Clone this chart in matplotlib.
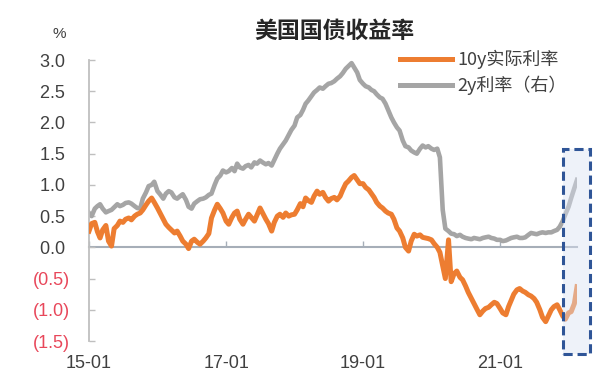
import matplotlib
matplotlib.use("Agg")
import matplotlib.pyplot as plt
import matplotlib.dates as mdates
from matplotlib.patches import Rectangle
import pandas as pd

# ---------------- data (semi-monthly) ----------------
start_date = "2015-01-01"
real10y = [
    # 2015
    0.26, 0.38, 0.40, 0.25, 0.15, 0.28, 0.35, 0.10, 0.02, 0.30, 0.35, 0.42,
    0.40, 0.45, 0.47, 0.44, 0.50, 0.53, 0.55, 0.60, 0.68, 0.74, 0.79, 0.72,
    # 2016
    0.63, 0.55, 0.45, 0.37, 0.32, 0.28, 0.23, 0.26, 0.18, 0.10, 0.05, -0.02,
    0.10, 0.13, 0.08, 0.05, 0.10, 0.15, 0.22, 0.47, 0.60, 0.69, 0.62, 0.55,
    # 2017
    0.42, 0.37, 0.48, 0.55, 0.58, 0.45, 0.37, 0.45, 0.53, 0.48, 0.42, 0.52,
    0.63, 0.55, 0.45, 0.38, 0.26, 0.40, 0.50, 0.53, 0.48, 0.55, 0.50, 0.52,
    # 2018
    0.53, 0.60, 0.70, 0.65, 0.79, 0.75, 0.72, 0.82, 0.90, 0.85, 0.88, 0.80,
    0.74, 0.78, 0.80, 0.76, 0.82, 0.92, 1.02, 1.06, 1.12, 1.15, 1.08, 1.02,
    # 2019
    1.02, 0.96, 0.92, 0.86, 0.80, 0.72, 0.66, 0.63, 0.58, 0.55, 0.53, 0.45,
    0.31, 0.26, 0.15, 0.00, -0.06, 0.10, 0.21, 0.18, 0.20, 0.16, 0.15, 0.14,
    # 2020
    0.12, 0.06, 0.00, -0.08, -0.30, -0.50, 0.12, -0.55, -0.42, -0.38, -0.48, -0.52,
    -0.62, -0.72, -0.82, -0.90, -1.00, -1.08, -1.02, -0.98, -0.96, -0.92, -0.88, -0.90,
    # 2021
    -0.98, -1.05, -1.08, -0.95, -0.85, -0.75, -0.68, -0.66, -0.70, -0.72, -0.76, -0.78,
    -0.82, -0.88, -1.00, -1.12, -1.19, -1.10, -1.00, -0.95, -0.92, -1.00, -1.10, -1.15,
    # 2022
    -1.05, -1.03, -0.90, -0.63,
]
rate2y = [
    # 2015
    0.55, 0.50, 0.62, 0.66, 0.69, 0.62, 0.56, 0.58, 0.60, 0.64, 0.69, 0.66,
    0.68, 0.71, 0.72, 0.70, 0.66, 0.63, 0.62, 0.78, 0.88, 0.98, 1.00, 1.05,
    # 2016
    0.90, 0.85, 0.78, 0.86, 0.90, 0.88, 0.80, 0.78, 0.82, 0.85, 0.76, 0.65,
    0.62, 0.70, 0.74, 0.77, 0.78, 0.80, 0.84, 0.86, 1.00, 1.10, 1.15, 1.23,
    # 2017
    1.20, 1.22, 1.27, 1.22, 1.34, 1.28, 1.26, 1.30, 1.32, 1.28, 1.36, 1.34,
    1.39, 1.36, 1.33, 1.35, 1.31, 1.40, 1.50, 1.58, 1.65, 1.71, 1.80, 1.88,
    # 2018
    1.95, 2.08, 2.12, 2.20, 2.30, 2.35, 2.42, 2.48, 2.52, 2.56, 2.54, 2.58,
    2.62, 2.63, 2.66, 2.70, 2.74, 2.79, 2.86, 2.90, 2.95, 2.88, 2.80, 2.68,
    # 2019
    2.62, 2.58, 2.56, 2.52, 2.50, 2.45, 2.40, 2.38, 2.30, 2.20, 2.08, 2.00,
    1.92, 1.87, 1.71, 1.62, 1.60, 1.55, 1.52, 1.50, 1.58, 1.63, 1.60, 1.62,
    # 2020
    1.58, 1.56, 1.58, 1.44, 0.60, 0.30, 0.26, 0.22, 0.21, 0.18, 0.20, 0.17,
    0.15, 0.14, 0.13, 0.15, 0.14, 0.13, 0.15, 0.16, 0.17, 0.15, 0.14, 0.12,
    # 2021
    0.12, 0.10, 0.11, 0.13, 0.15, 0.16, 0.17, 0.15, 0.15, 0.16, 0.20, 0.23,
    0.22, 0.21, 0.23, 0.24, 0.23, 0.24, 0.24, 0.26, 0.28, 0.33, 0.42, 0.53,
    # 2022
    0.65, 0.79, 0.95, 1.08,
]
series_labels = ["10y实际利率", "2y利率（右）"]
title = "美国国债收益率"
unit_label = "%"
y_ticks = [3.0, 2.5, 2.0, 1.5, 1.0, 0.5, 0.0, -0.5, -1.0, -1.5]
x_ticks = ["2015-01-01", "2017-01-01", "2019-01-01", "2021-01-01"]
x_range = ["2015-01-01", "2022-02-15"]
y_range = [-1.5, 3.0]
box_x = ["2021-12-01", "2022-04-23"]
box_y = [-1.71, 1.58]

dates = pd.date_range(start_date, periods=len(real10y), freq="SMS")

# ---------------- style ----------------
orange = "#ED7D31"
gray = "#A5A5A5"
txt = "#404040"
red = "#E8475A"
latin = ["Liberation Sans", "Noto Sans CJK SC", "DejaVu Sans"]
cjk = ["Noto Sans CJK SC", "Liberation Sans", "DejaVu Sans"]
plt.rcParams["font.family"] = latin

W, H = 593, 373
fig = plt.figure(figsize=(W / 100, H / 100), dpi=100)
ax = fig.add_axes([89 / W, 1 - 341 / H, (577 - 89) / W, (341 - 60) / H])

ax.plot(dates, real10y, color=orange, lw=3.6, solid_joinstyle="round",
        label=series_labels[0], zorder=3)
ax.plot(dates, rate2y, color=gray, lw=3.3, solid_joinstyle="round",
        label=series_labels[1], zorder=2)

ax.set_xlim(pd.Timestamp(x_range[0]), pd.Timestamp(x_range[1]))
ax.set_ylim(*y_range)

# spines
for s in ["top", "right", "bottom"]:
    ax.spines[s].set_visible(False)
ax.spines["left"].set_color("#BFBFBF")
ax.spines["left"].set_linewidth(1.3)

# y ticks
ax.set_yticks(y_ticks)
ylabels = [f"{v:.1f} " if v >= 0 else f"({abs(v):.1f})" for v in y_ticks]
ax.set_yticklabels(ylabels)
for lab, v in zip(ax.get_yticklabels(), y_ticks):
    lab.set_color(txt if v >= 0 else red)
ax.tick_params(axis="y", direction="in", length=4, width=1, color="#BFBFBF",
               labelsize=13, pad=13.5)

# x ticks (labels at the bottom)
xt = [pd.Timestamp(d) for d in x_ticks]
ax.set_xticks(xt)
ax.xaxis.set_major_formatter(mdates.DateFormatter("%y-%m"))
ax.tick_params(axis="x", length=0, labelsize=13, pad=10, labelcolor=txt)

# zero axis line with inward ticks
frac0 = (0 - y_range[0]) / (y_range[1] - y_range[0])
sec = ax.secondary_xaxis(frac0)
sec.set_xticks(xt)
sec.tick_params(axis="x", direction="in", length=4, width=1, color="#A6AEB8",
                labelbottom=False, labeltop=False)
sec.set_xticklabels([])
sec.spines["bottom"].set_color("#A6AEB8")
sec.spines["bottom"].set_linewidth(1.5)

# highlight box
bx0 = mdates.date2num(pd.Timestamp(box_x[0]))
bx1 = mdates.date2num(pd.Timestamp(box_x[1]))
rect = Rectangle((bx0, box_y[0]), bx1 - bx0, box_y[1] - box_y[0],
                 facecolor="#DAE3F3", alpha=0.45, edgecolor="none",
                 clip_on=False, zorder=4)
ax.add_patch(rect)
rect2 = Rectangle((bx0, box_y[0]), bx1 - bx0, box_y[1] - box_y[0],
                  facecolor="none", edgecolor="#2F5597", lw=2.2,
                  linestyle=(0, (3, 1.6)), clip_on=False, zorder=5)
ax.add_patch(rect2)

# title, unit
fig.text(334 / W, 1 - 31 / H, title, ha="center", va="center", fontsize=16.5,
         fontweight="bold", color="#262626", family=cjk)
fig.text(59 / W, 1 - 34 / H, unit_label, ha="center", va="center",
         fontsize=11, color=txt)

leg = ax.legend(loc="upper left", bbox_to_anchor=(400 / W, 1 - 50 / H),
                bbox_transform=fig.transFigure, frameon=False, fontsize=13,
                handlelength=2.9, handletextpad=0.3, labelspacing=0.35,
                borderpad=0, borderaxespad=0)
for t in leg.get_texts():
    t.set_color(txt)
    t.set_family(cjk)
for l in leg.get_lines():
    l.set_linewidth(3.6)

fig.savefig("out.png", dpi=100)
